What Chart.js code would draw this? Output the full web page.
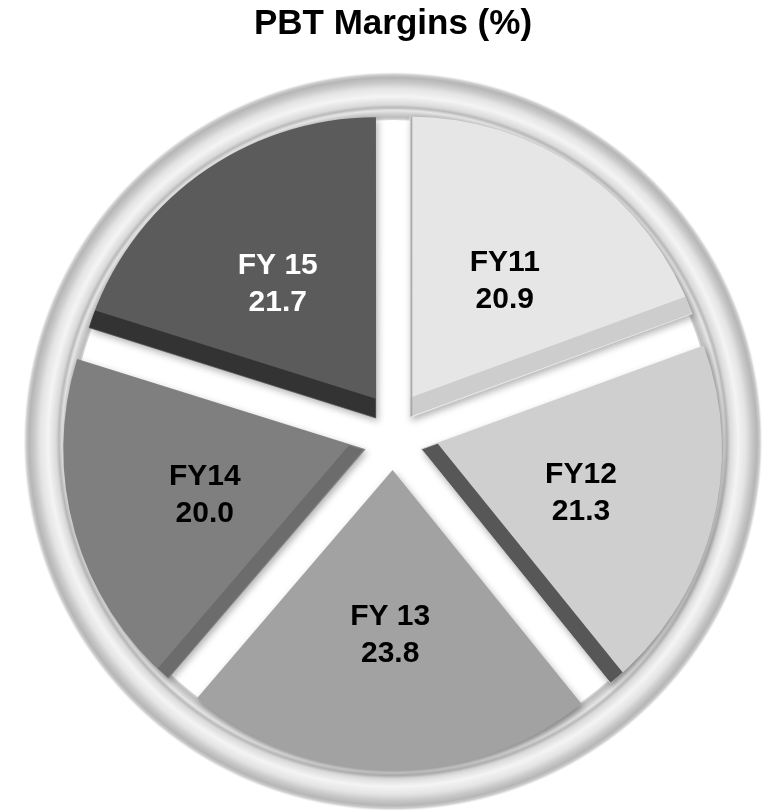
<!DOCTYPE html>
<html>
<head>
<meta charset="utf-8">
<script src="https://cdn.jsdelivr.net/npm/chart.js@4.4.1/dist/chart.umd.min.js"></script>
<style>
html,body{margin:0;padding:0;background:#ffffff;}
canvas{display:block;}
</style>
</head>
<body>
<canvas id="c" width="769" height="810"></canvas>
<script>
// ---- data ----
const categories = ['FY11', 'FY12', 'FY 13', 'FY14', 'FY 15'];
const margins = [20.9, 21.3, 23.8, 20.0, 21.7];
const chartTitle = 'PBT Margins (%)';

// ---- styles ----
const faceColors  = ['#e6e6e6', '#cfcfcf', '#a2a2a2', '#7f7f7f', '#5b5b5b'];
const bevelColors = ['#cdcdcd', '#575757', null, '#6c6c6c', '#333333'];
const bevelEdges  = ['end', 'end', null, 'start', 'start'];
const bevelWidths = [18, 16, 0, 14, 18];
const thinEdgeColors = ['#a9a9a9', null, null, null, null];
const labelColors = ['#000000', '#000000', '#000000', '#000000', '#ffffff'];
const FONT = '"Liberation Sans", Arial, Helvetica, sans-serif';

function explodeShift(arc) {
  const off = (arc.options.offset || 0) / 4;
  const circ = arc.endAngle - arc.startAngle;
  const fix = 1 - Math.sin(Math.min(Math.PI, circ || 0));
  return off + off * fix;
}

function edgeBand(ctx, arc, ox, oy, edge, w, color) {
  const R = arc.outerRadius;
  const ang = edge === 'start' ? arc.startAngle : arc.endAngle;
  const sgn = edge === 'start' ? 1 : -1;
  const nx = Math.cos(ang + sgn * Math.PI / 2), ny = Math.sin(ang + sgn * Math.PI / 2);
  const sx = ox - Math.cos(ang) * 10, sy = oy - Math.sin(ang) * 10;
  const ex = ox + Math.cos(ang) * (R + 10), ey = oy + Math.sin(ang) * (R + 10);
  ctx.save();
  ctx.beginPath();
  ctx.moveTo(ox, oy);
  ctx.arc(ox, oy, R, arc.startAngle, arc.endAngle);
  ctx.closePath();
  ctx.clip();
  ctx.beginPath();
  ctx.moveTo(sx, sy);
  ctx.lineTo(ex, ey);
  ctx.lineTo(ex + nx * w, ey + ny * w);
  ctx.lineTo(sx + nx * w, sy + ny * w);
  ctx.closePath();
  ctx.fillStyle = color;
  ctx.fill();
  ctx.restore();
}

const ringPlugin = {
  id: 'ring',
  beforeDatasetsDraw(chart) {
    const arc = chart.getDatasetMeta(0).data[0];
    if (!arc) return;
    const ctx = chart.ctx;
    const cx = arc.x, cy = arc.y, R = arc.outerRadius;
    const r0 = R * 1.072, r1 = R * 1.232;
    const span = r1 - r0;
    const g = ctx.createRadialGradient(cx, cy, r0, cx, cy, r1);
    const stops = [
      [322, '#d6d6d6'], [324, '#bdbdbd'], [327, '#cacaca'], [331, '#e6e6e6'],
      [334, '#bababa'], [337, '#dadada'], [345, '#f4f4f4'], [353, '#e4e4e4'],
      [359, '#c8c8c8'], [364, '#b6b6b6'], [367, '#cfcfcf'], [369.6, 'rgba(235,235,235,0)']
    ];
    stops.forEach(s => g.addColorStop(Math.min(1, Math.max(0, (s[0] / 300 * R - r0) / span)), s[1]));
    ctx.save();
    ctx.beginPath();
    ctx.arc(cx, cy, r1, 0, Math.PI * 2);
    ctx.arc(cx, cy, r0, 0, Math.PI * 2, true);
    ctx.closePath();
    ctx.fillStyle = g;
    ctx.fill('evenodd');
    ctx.restore();
  },
  beforeDatasetDraw(chart) {
    const ctx = chart.ctx;
    ctx.save();
    ctx.shadowColor = 'rgba(0,0,0,0.30)';
    ctx.shadowBlur = 7;
    ctx.shadowOffsetX = 2;
    ctx.shadowOffsetY = 3;
  },
  afterDatasetDraw(chart) {
    chart.ctx.restore();
  },
  afterDatasetsDraw(chart) {
    const ctx = chart.ctx;
    const meta = chart.getDatasetMeta(0);
    meta.data.forEach((arc, i) => {
      const R = arc.outerRadius;
      const mid = (arc.startAngle + arc.endAngle) / 2;
      const shift = explodeShift(arc);
      const ox = arc.x + Math.cos(mid) * shift;
      const oy = arc.y + Math.sin(mid) * shift;
      if (bevelColors[i]) edgeBand(ctx, arc, ox, oy, bevelEdges[i], bevelWidths[i], bevelColors[i]);
      if (thinEdgeColors[i]) edgeBand(ctx, arc, ox, oy, 'start', 2, thinEdgeColors[i]);
      const d = shift + R * 0.55;
      const lx = arc.x + Math.cos(mid) * d;
      const ly = arc.y + Math.sin(mid) * d;
      ctx.save();
      ctx.font = 'bold 30px ' + FONT;
      ctx.fillStyle = labelColors[i];
      ctx.textAlign = 'center';
      ctx.textBaseline = 'middle';
      ctx.fillText(categories[i], lx, ly - 18.5);
      ctx.fillText(margins[i].toFixed(1), lx, ly + 18.5);
      ctx.restore();
    });
  }
};

new Chart(document.getElementById('c'), {
  type: 'pie',
  data: {
    labels: categories,
    datasets: [{
      data: margins,
      backgroundColor: faceColors,
      borderWidth: 0,
      offset: 114
    }]
  },
  options: {
    responsive: false,
    animation: false,
    devicePixelRatio: 1,
    radius: 300,
    layout: { padding: { left: 17, right: 0, top: 0, bottom: 0 } },
    plugins: {
      legend: { display: false },
      tooltip: { enabled: false },
      title: {
        display: true,
        text: chartTitle,
        color: '#000000',
        font: { family: FONT, size: 35, weight: 'bold' },
        padding: { top: 3, bottom: 28 }
      }
    }
  },
  plugins: [ringPlugin]
});
</script>
</body>
</html>
